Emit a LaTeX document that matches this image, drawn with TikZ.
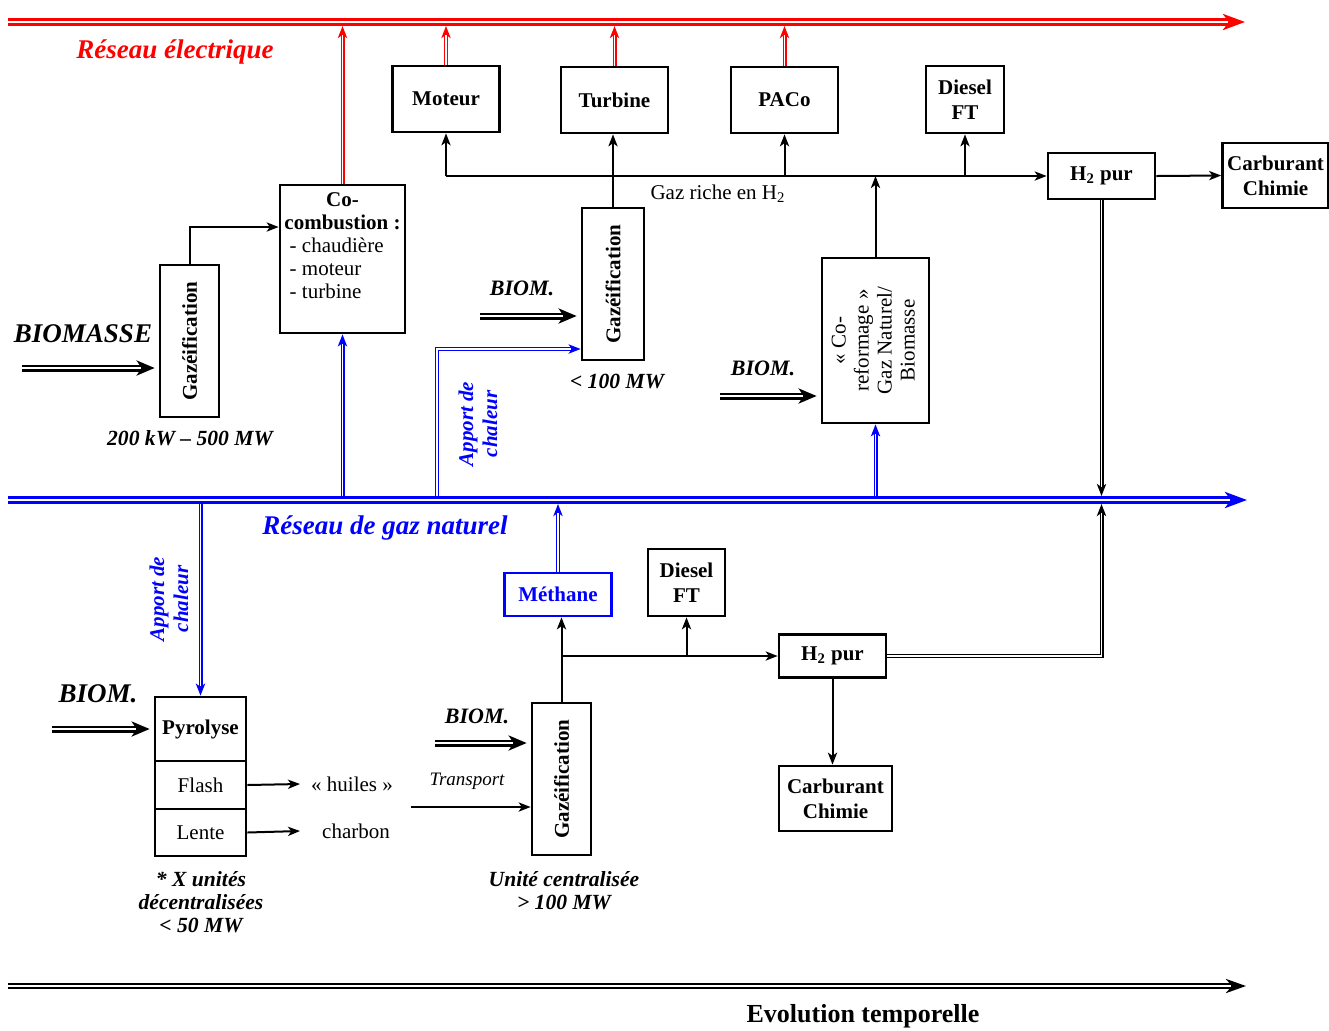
\documentclass[tikz,border=0pt]{standalone}
\usepackage{fontspec}
\setmainfont{Liberation Serif}
\usetikzlibrary{arrows.meta,calc}
\begin{document}
\begin{tikzpicture}[x=0.5pt,y=-0.5pt,
  box/.style={draw, line width=1.35pt, inner sep=0pt, align=center,
    font=\fontsize{10.5}{12.5}\selectfont\bfseries},
  conn/.style={draw, line width=1pt, -{Stealth[length=6pt,width=4.6pt,inset=1.6pt]}},
  % double line with a solid arrow tip:
  % #1 colour, #2 overall width, #3 gap width, #4 tip, #5 shortening of the gap, #6 shortening of the line
  dbl/.style n args={6}{draw=white, line width=#3, shorten >=#5,
    preaction={draw=#1, line width=#2, shorten >=#6, -{#4}}},
  thindbl/.style={dbl={#1}{2pt}{0.9pt}{Stealth[length=6pt,width=4.6pt,inset=1.6pt]}{4.7pt}{0pt}},
  bus/.style={dbl={#1}{3.7pt}{1.4pt}{Stealth[length=11pt,width=8pt,inset=3pt]}{8.4pt}{0pt}},
  feed/.style={dbl={black}{3.5pt}{1.3pt}{Stealth[length=9pt,width=7.5pt,inset=2.5pt]}{9pt}{2pt}},
  lbl/.style={font=\fontsize{10.8}{11.5}\selectfont\bfseries\itshape, align=center},
  biglbl/.style={font=\fontsize{13.5}{15}\selectfont\bfseries\itshape},
  rtxt/.style={font=\fontsize{10.5}{12}\selectfont},
]
\useasboundingbox (0,0) rectangle (1329,1030);

% ---- network rails -------------------------------------------------
\coordinate (elecA) at (8,22);   \coordinate (elecB) at (1245,22);
\coordinate (elecS) at (0,26);
\coordinate (gasA)  at (8,500);  \coordinate (gasB)  at (1247,500);
\coordinate (gasN)  at (0,496);  \coordinate (gasS)  at (0,504);
\coordinate (timeA) at (8,986);  \coordinate (timeB) at (1246,986);

\draw[bus=red]  (elecA) -- (elecB);
\draw[bus=blue] (gasA) -- (gasB);
\draw[dbl={black}{3.1pt}{1.1pt}{Stealth[length=10pt,width=7pt,inset=3pt]}{7.4pt}{0pt}] (timeA) -- (timeB);

\node[biglbl, text=red]  (elec)  at (175,52)  {Réseau électrique};
\node[biglbl, text=blue] (gasnet) at (385,528) {Réseau de gaz naturel};
\node[font=\fontsize{13}{15}\selectfont\bfseries] (evol) at (863,1016) {Evolution temporelle};

% ---- upper half: boxes ---------------------------------------------
\node[box, minimum width=53.5pt, minimum height=33pt]   (moteur)  at (446,99)    {Moteur};
\node[box, minimum width=53.5pt, minimum height=33pt]   (turbine) at (614.5,100) {Turbine};
\node[box, minimum width=53.5pt, minimum height=33pt]   (paco)    at (784.5,100) {PACo};
\node[box, minimum width=39pt,   minimum height=33.5pt] (dieselA) at (965,99.5)  {Diesel\\FT};
\node[box, minimum width=53.5pt, minimum height=23pt]   (h2A)     at (1101.5,176) {H\textsubscript{2} pur};
\node[box, minimum width=53pt,   minimum height=32.5pt] (carbA)   at (1275.5,175.5) {Carburant\\Chimie};

\node[box, minimum width=62.5pt, minimum height=74pt] (cocomb) at (342.5,259) {};
\node[anchor=north, inner sep=0pt, font=\fontsize{10.5}{12}\selectfont] (cocombt)
  at ([yshift=-3pt]cocomb.north)
  {\begin{tabular}{@{}l@{}}
   \multicolumn{1}{@{}c@{}}{\bfseries Co-}\\[-0.5pt]
   \multicolumn{1}{@{}c@{}}{\bfseries combustion :}\\[-0.5pt]
   \ - chaudière\\[-0.5pt]
   \ - moteur\\[-0.5pt]
   \ - turbine
   \end{tabular}};

\node[box, minimum width=29.5pt, minimum height=76pt] (gaz1) at (189.5,341) {\rotatebox{90}{Gazéification}};
\node[box, minimum width=31pt,   minimum height=76pt] (gaz2) at (613,284)   {\rotatebox{90}{Gazéification}};
\node[box, minimum width=53.5pt, minimum height=82.5pt, font=\fontsize{10.5}{11.5}\selectfont] (coref) at (875.5,340.5)
  {\rotatebox{90}{\begin{tabular}{@{}c@{}}« Co-\\reformage »\\Gaz Naturel/\\Biomasse\end{tabular}}};

% ---- upper half: labels --------------------------------------------
\node[biglbl] (biomasse) at (83,334) {BIOMASSE};
\node[lbl] (range1) at (190,438) {200 kW – 500 MW};
\node[lbl, font=\fontsize{11}{12}\selectfont\bfseries\itshape] (biom1) at (522,288) {BIOM.};
\node[lbl] (range2) at (617,381) {< 100 MW};
\node[lbl, font=\fontsize{11}{12}\selectfont\bfseries\itshape] (biom2) at (763,368) {BIOM.};
\node[rtxt] (gazriche) at (718,194) {Gaz riche en H\textsubscript{2}};
\node[lbl, text=blue, rotate=90, font=\fontsize{10.5}{12}\selectfont\bfseries\itshape] (chal1) at (478,424) {Apport de\\chaleur};

% ---- upper half: connectors ----------------------------------------
\coordinate (busL) at (446,176);
\draw[conn] (busL) -- (h2A.west);
\draw[conn] (busL) -- (moteur.south);
\draw[conn] (gaz2.north) -- (gaz2.north |- turbine.south);
\draw[conn] (paco.south |- busL) -- (paco.south);
\draw[conn] (dieselA.south |- busL) -- (dieselA.south);
\draw[conn] (coref.north) -- (coref.north |- busL);
\draw[conn] (h2A.east) -- (carbA.west);
\draw[conn] (gaz1.north) |- (cocomb.west |- 0,227);

\draw[thindbl=red] (cocomb.north) -- (cocomb.north |- elecS);
\draw[thindbl=red] (moteur.north) -- (moteur.north |- elecS);
\draw[thindbl=red] (turbine.north) -- (turbine.north |- elecS);
\draw[thindbl=red] (paco.north) -- (paco.north |- elecS);

\draw[thindbl=blue] (gasN -| cocomb.south) -- (cocomb.south);
\coordinate (ac1) at (437,496);
\draw[thindbl=blue] (ac1) |- (gaz2.west |- 0,349);
\draw[thindbl=blue] (gasN -| coref.south) -- (coref.south);
\draw[thindbl=black] (h2A.south) -- (h2A.south |- gasN);

\coordinate (fA) at (22,368);
\draw[feed] (fA) -- (gaz1.west |- fA);
\coordinate (fB) at (480,316);
\draw[feed] (fB) -- (gaz2.west |- fB);
\coordinate (fC) at (720,396);
\draw[feed] (fC) -- (coref.west |- fC);

% ---- lower half: boxes ---------------------------------------------
\node[box, draw=blue, text=blue, minimum width=53.5pt, minimum height=21.5pt] (methane) at (558,594.5) {Méthane};
\node[box, minimum width=38.5pt, minimum height=33.5pt] (dieselB) at (686.5,582.5) {Diesel\\FT};
\node[box, minimum width=53.5pt, minimum height=21.5pt] (h2B) at (832.5,656) {H\textsubscript{2} pur};
\node[box, minimum width=56.5pt, minimum height=32.5pt] (carbB) at (835.5,798.5) {Carburant\\Chimie};
\node[box, minimum width=29.5pt, minimum height=76pt] (gaz3) at (561.5,779) {\rotatebox{90}{Gazéification}};

\node[box, minimum width=45.5pt, minimum height=32pt] (pyro) at (200.5,729) {Pyrolyse};
\node[box, minimum width=45.5pt, minimum height=24pt, font=\fontsize{10.5}{12}\selectfont] (flash) at (200.5,785) {Flash};
\node[box, minimum width=45.5pt, minimum height=23.5pt, font=\fontsize{10.5}{12}\selectfont] (lente) at (200.5,832.5) {Lente};

% ---- lower half: labels --------------------------------------------
\node[lbl, text=blue, rotate=90, font=\fontsize{10.5}{12}\selectfont\bfseries\itshape] (chal2) at (169,599) {Apport de\\chaleur};
\node[biglbl] (biom3) at (98,694) {BIOM.};
\node[lbl, font=\fontsize{11}{12}\selectfont\bfseries\itshape] (biom4) at (477,716) {BIOM.};
\node[rtxt] (huiles) at (352,784) {« huiles »};
\node[rtxt] (charbon) at (356,831) {charbon};
\node[rtxt, font=\fontsize{9.5}{11}\selectfont\itshape] (transport) at (467,781) {Transport};
\node[lbl] (decent) at (201,902) {* X unités\\décentralisées\\< 50 MW};
\node[lbl] (central) at (564,891) {Unité centralisée\\> 100 MW};

% ---- lower half: connectors ----------------------------------------
\coordinate (j1) at (gaz3.north |- h2B.west);
\draw[conn] (gaz3.north) -- (gaz3.north |- methane.south);
\draw[conn] (j1) -- (h2B.west);
\draw[conn] (dieselB.south |- j1) -- (dieselB.south);
\draw[conn] (h2B.south) -- (h2B.south |- carbB.north);
\draw[thindbl=blue] (methane.north) -- (methane.north |- gasS);
\draw[thindbl=blue] (gasS -| pyro.north) -- (pyro.north);
\draw[thindbl=black] (h2B.east) -| (gasS -| h2A.south);

\coordinate (fD) at (52,729);
\draw[feed] (fD) -- (pyro.west |- fD);
\coordinate (fE) at (435,743);
\draw[feed] (fE) -- (gaz3.west |- fE);

\coordinate (huilesIn) at (300,784);
\coordinate (charbonIn) at (300,831);
\draw[conn] (flash.east) -- (huilesIn);
\draw[conn] (lente.east) -- (charbonIn);
\coordinate (trA) at (411,807);
\draw[conn] (trA) -- (gaz3.west |- trA);
\end{tikzpicture}
\end{document}
